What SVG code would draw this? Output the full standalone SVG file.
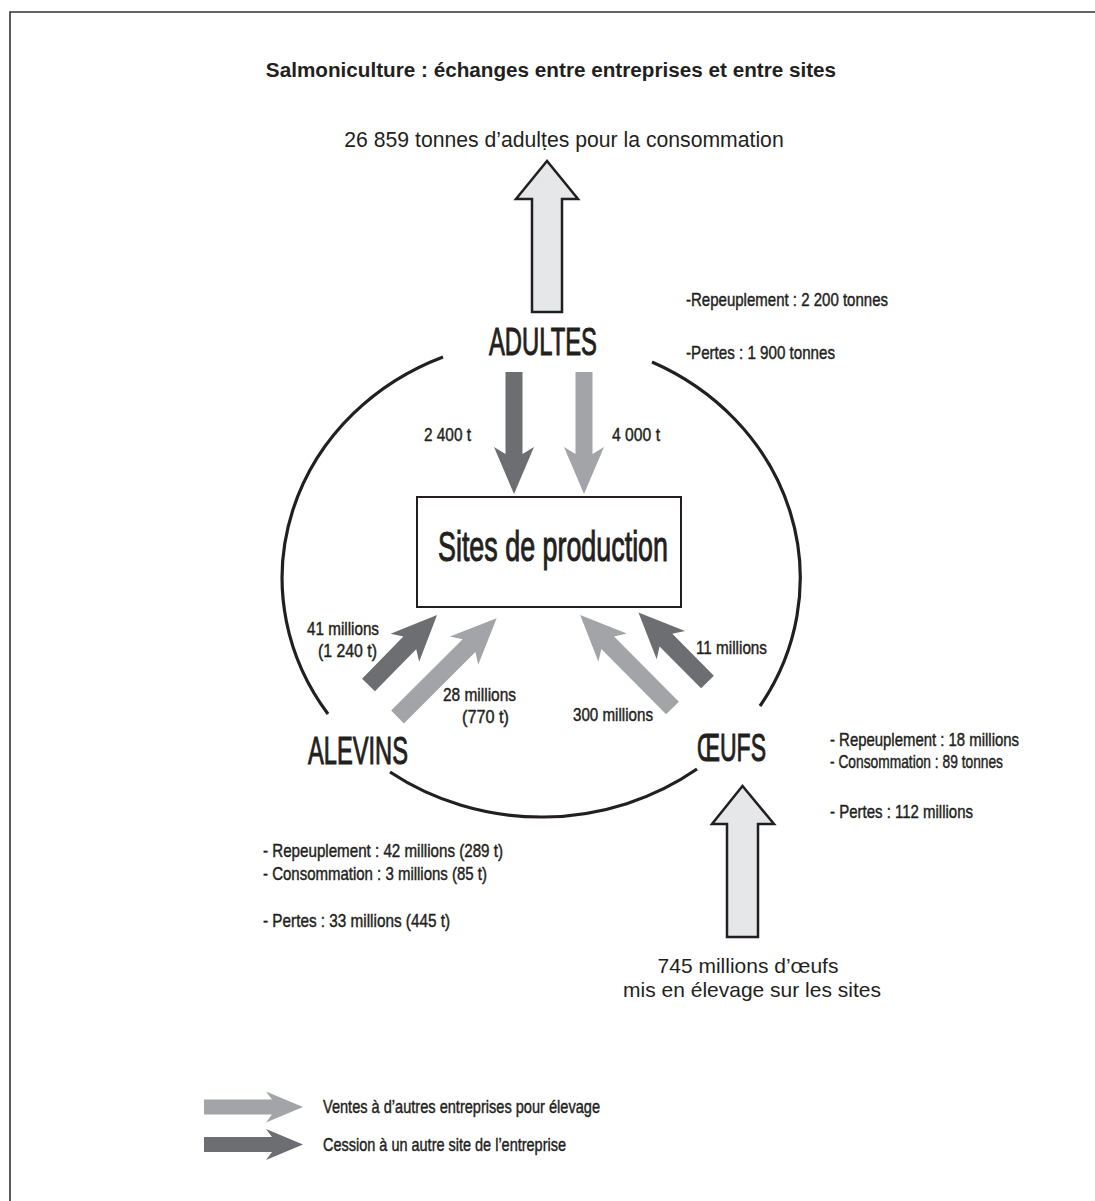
<svg xmlns="http://www.w3.org/2000/svg" width="1095" height="1201" viewBox="0 0 1095 1201">
<style>
.t{font-family:"Liberation Sans",Arial,sans-serif;fill:#231f20}
.c{font-family:"Liberation Sans",Arial,sans-serif;fill:#231f20;font-size:19px;stroke:#231f20;stroke-width:0.45}
.n{font-family:"Liberation Sans",Arial,sans-serif;fill:#231f20;font-size:39px;stroke:#231f20;stroke-width:1}
.dark{fill:#6d6e71}
.light{fill:#a2a4a7}
.big{fill:#e6e7e8;stroke:#231f20;stroke-width:2.5;stroke-linejoin:miter}
.ring{fill:none;stroke:#231f20;stroke-width:3.2}
</style>
<defs>
<polygon id="a98" points="0,-9 59,-9 52,-20 98,0 52,20 59,9 0,9"/>
<polygon id="a140" points="0,-9 101,-9 94,-20 140,0 94,20 101,9 0,9"/>
<polygon id="a131" points="0,-9 92,-9 85,-20 131,0 85,20 92,9 0,9"/>
<polygon id="a122" points="0,-8.5 82,-8.5 75,-20 122,0 75,20 82,8.5 0,8.5"/>
<polygon id="leg" points="0,-7.5 68,-7.5 62,-15.5 99,0 62,15.5 68,7.5 0,7.5"/>
</defs>
<rect width="1095" height="1201" fill="#ffffff"/>
<g id="frame" fill="none" stroke="#333333" stroke-width="1.6">
<path d="M10 1201 V12 H1095"/>
</g>
<text id="title" class="t" x="551" y="77" font-size="20.7" font-weight="bold" text-anchor="middle">Salmoniculture : échanges entre entreprises et entre sites</text>

<g id="connectors">
<path class="ring" d="M443 357 A259 239 0 0 0 328 714"/>
<path class="ring" d="M390 772 A259 239 0 0 0 697 769"/>
<path class="ring" d="M652 362 A259 239 0 0 1 760 706"/>
<polygon class="big" points="532,312 532,199 516,199 547,161 578,199 562,199 562,312"/>
<polygon class="big" points="727,937 727,824 712,824 742.5,786 774,824 758,824 758,937"/>
<use href="#a122" class="dark" transform="translate(514,372) rotate(90)"/>
<use href="#a122" class="light" transform="translate(584,372) rotate(90)"/>
<use href="#a98" class="dark" transform="translate(368.5,685) rotate(-45.6)"/>
<use href="#a140" class="light" transform="translate(397.5,717) rotate(-44.9)"/>
<use href="#a131" class="light" transform="translate(672.5,708) rotate(-134.8)"/>
<use href="#a98" class="dark" transform="translate(707.5,682) rotate(-134.8)"/>
</g>

<g id="flow-labels">
<text class="t" x="564" y="147" font-size="21.2" text-anchor="middle">26 859 tonnes d’adulṭes pour la consommation</text>
<text class="c" x="424" y="441" textLength="47" lengthAdjust="spacingAndGlyphs">2 400 t</text>
<text class="c" x="612" y="441" textLength="48" lengthAdjust="spacingAndGlyphs">4 000 t</text>
<text class="c" x="307" y="635" textLength="72" lengthAdjust="spacingAndGlyphs">41 millions</text>
<text class="c" x="318" y="657" textLength="59" lengthAdjust="spacingAndGlyphs">(1 240 t)</text>
<text class="c" x="443" y="701" textLength="73" lengthAdjust="spacingAndGlyphs">28 millions</text>
<text class="c" x="462" y="723" textLength="47" lengthAdjust="spacingAndGlyphs">(770 t)</text>
<text class="c" x="573" y="721" textLength="80" lengthAdjust="spacingAndGlyphs">300 millions</text>
<text class="c" x="696" y="654" textLength="71" lengthAdjust="spacingAndGlyphs">11 millions</text>
<text class="t" x="748" y="973" font-size="21" text-anchor="middle">745 millions d’œufs</text>
<text class="t" x="752" y="997" font-size="21" text-anchor="middle">mis en élevage sur les sites</text>
</g>

<g id="node-adultes">
<text class="n" x="489" y="355" textLength="108" lengthAdjust="spacingAndGlyphs">ADULTES</text>
<text class="c" x="686" y="306" textLength="202" lengthAdjust="spacingAndGlyphs">-Repeuplement : 2 200 tonnes</text>
<text class="c" x="686" y="359" textLength="149" lengthAdjust="spacingAndGlyphs">-Pertes : 1 900 tonnes</text>
</g>

<g id="node-sites">
<rect x="417" y="497" width="264" height="110" fill="#ffffff" stroke="#231f20" stroke-width="2"/>
<text class="t" x="438" y="561" font-size="42" stroke="#231f20" stroke-width="1" textLength="230" lengthAdjust="spacingAndGlyphs">Sites de production</text>
</g>

<g id="node-alevins">
<text class="n" x="308" y="764" textLength="100" lengthAdjust="spacingAndGlyphs">ALEVINS</text>
<text class="c" x="263" y="857" textLength="240" lengthAdjust="spacingAndGlyphs">- Repeuplement : 42 millions (289 t)</text>
<text class="c" x="263" y="880" textLength="224" lengthAdjust="spacingAndGlyphs">- Consommation : 3 millions (85 t)</text>
<text class="c" x="263" y="927" textLength="187" lengthAdjust="spacingAndGlyphs">- Pertes : 33 millions (445 t)</text>
</g>

<g id="node-oeufs">
<text class="n" x="697" y="761" textLength="69" lengthAdjust="spacingAndGlyphs">ŒUFS</text>
<text class="c" x="830" y="746" textLength="189" lengthAdjust="spacingAndGlyphs">- Repeuplement : 18 millions</text>
<text class="c" x="830" y="768" textLength="173" lengthAdjust="spacingAndGlyphs">- Consommation : 89 tonnes</text>
<text class="c" x="830" y="818" textLength="143" lengthAdjust="spacingAndGlyphs">- Pertes : 112 millions</text>
</g>

<g id="legend">
<use href="#leg" class="light" transform="translate(204,1107)"/>
<use href="#leg" class="dark" transform="translate(204,1144.5)"/>
<text class="c" x="323" y="1113" textLength="277" lengthAdjust="spacingAndGlyphs">Ventes à d’autres entreprises pour élevage</text>
<text class="c" x="323" y="1151" textLength="243" lengthAdjust="spacingAndGlyphs">Cession à un autre site de l’entreprise</text>
</g>
</svg>
